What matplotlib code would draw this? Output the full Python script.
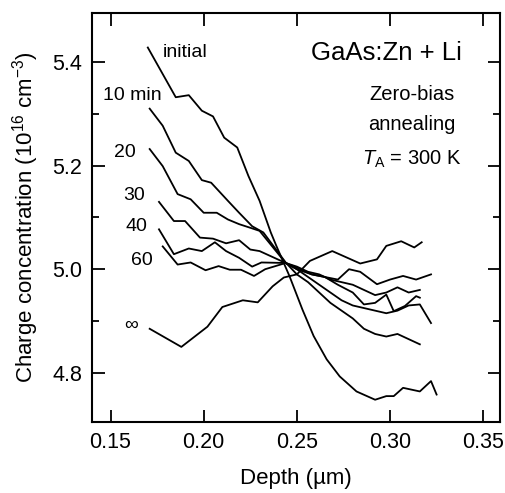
import matplotlib
matplotlib.use("Agg")
import matplotlib.pyplot as plt
from matplotlib.ticker import MultipleLocator

plt.rcParams['font.family'] = ['Liberation Sans', 'DejaVu Sans']
plt.rcParams['mathtext.fontset'] = 'custom'
plt.rcParams['mathtext.rm'] = 'Liberation Sans'
plt.rcParams['mathtext.it'] = 'Liberation Sans:italic'

# depth (um) / charge concentration (1e16 cm^-3)
x_init = [0.170, 0.185, 0.192, 0.199, 0.205, 0.211, 0.218, 0.224, 0.230, 0.236, 0.239, 0.246,
          0.253, 0.259, 0.266, 0.273, 0.282, 0.292, 0.298, 0.302, 0.307, 0.316, 0.322, 0.325]
y_init = [5.428, 5.332, 5.336, 5.306, 5.295, 5.254, 5.235, 5.180, 5.132, 5.071, 5.045, 4.987,
          4.922, 4.871, 4.826, 4.793, 4.764, 4.748, 4.755, 4.755, 4.771, 4.764, 4.784, 4.758]

x_10 = [0.171, 0.178, 0.185, 0.192, 0.199, 0.204, 0.213, 0.219, 0.226, 0.232, 0.244,
        0.250, 0.256, 0.262, 0.268, 0.274, 0.280, 0.286, 0.292, 0.298, 0.304, 0.310, 0.316]
y_10 = [5.310, 5.277, 5.225, 5.209, 5.172, 5.167, 5.132, 5.109, 5.083, 5.071, 5.013,
        4.990, 4.975, 4.955, 4.935, 4.920, 4.905, 4.885, 4.875, 4.870, 4.875, 4.865, 4.855]

x_20 = [0.171, 0.178, 0.186, 0.193, 0.200, 0.207, 0.213, 0.219, 0.225, 0.230, 0.244,
        0.250, 0.256, 0.262, 0.268, 0.274, 0.280, 0.286, 0.292, 0.298, 0.304, 0.310, 0.316, 0.322]
y_20 = [5.232, 5.199, 5.145, 5.135, 5.109, 5.109, 5.096, 5.087, 5.080, 5.074, 5.012,
        5.000, 4.985, 4.970, 4.955, 4.940, 4.930, 4.925, 4.920, 4.915, 4.920, 4.930, 4.932, 4.896]

x_30 = [0.176, 0.184, 0.190, 0.198, 0.205, 0.212, 0.219, 0.225, 0.230, 0.244,
        0.250, 0.258, 0.265, 0.272, 0.280, 0.286, 0.292, 0.298, 0.302, 0.308, 0.314, 0.316]
y_30 = [5.130, 5.093, 5.093, 5.061, 5.059, 5.050, 5.056, 5.038, 5.035, 5.012,
        5.000, 4.990, 4.985, 4.970, 4.955, 4.932, 4.935, 4.951, 4.919, 4.929, 4.948, 4.945]

x_40 = [0.176, 0.184, 0.192, 0.199, 0.206, 0.212, 0.219, 0.226, 0.231, 0.244,
        0.250, 0.256, 0.262, 0.268, 0.274, 0.280, 0.286, 0.292, 0.298, 0.304, 0.310, 0.316]
y_40 = [5.077, 5.029, 5.040, 5.035, 5.052, 5.035, 5.022, 5.005, 5.013, 5.012,
        5.005, 4.995, 4.990, 4.980, 4.975, 4.970, 4.960, 4.950, 4.955, 4.965, 4.955, 4.960]

x_60 = [0.178, 0.186, 0.193, 0.201, 0.208, 0.214, 0.220, 0.227, 0.233, 0.244,
        0.252, 0.258, 0.265, 0.272, 0.278, 0.284, 0.293, 0.300, 0.307, 0.314, 0.322]
y_60 = [5.044, 5.009, 5.013, 4.998, 5.006, 4.999, 4.999, 4.987, 5.000, 5.012,
        5.000, 4.990, 4.985, 4.980, 5.000, 4.995, 4.971, 4.980, 4.987, 4.980, 4.990]

x_inf = [0.171, 0.188, 0.202, 0.210, 0.221, 0.229, 0.237, 0.243, 0.250, 0.257, 0.269,
         0.284, 0.293, 0.298, 0.306, 0.313, 0.317]
y_inf = [4.885, 4.850, 4.889, 4.927, 4.940, 4.936, 4.967, 4.984, 4.990, 5.016, 5.035,
         5.011, 5.019, 5.045, 5.054, 5.042, 5.052]

curves = [(x_init, y_init), (x_10, y_10), (x_20, y_20), (x_30, y_30),
          (x_40, y_40), (x_60, y_60), (x_inf, y_inf)]

# label text and anchor (data coords)
labels = ["initial", "10 min", "20", "30", "40", "60", r"$\infty$"]
label_x = [0.178, 0.146, 0.152, 0.157, 0.158, 0.161, 0.157]
label_y = [5.419, 5.336, 5.225, 5.142, 5.083, 5.016, 4.893]

fig = plt.figure(figsize=(5.05, 4.93), dpi=100)
ax = fig.add_axes([0.182, 0.144, 0.808, 0.830])

for xs, ys in curves:
    ax.plot(xs, ys, color='black', lw=1.3)

for t, lx, ly in zip(labels, label_x, label_y):
    ax.text(lx, ly, t, fontsize=14, va='center', ha='left')

ax.text(0.907, 0.902, "GaAs:Zn + Li", transform=ax.transAxes, fontsize=18.5,
        ha='right', va='center')
ax.text(0.785, 0.800, "Zero-bias", transform=ax.transAxes, fontsize=14.5,
        ha='center', va='center')
ax.text(0.785, 0.726, "annealing", transform=ax.transAxes, fontsize=14.5,
        ha='center', va='center')
ax.text(0.785, 0.641, "$T_{\\rm A}$ = 300 K", transform=ax.transAxes, fontsize=14.5,
        ha='center', va='center')

ax.set_xlim(0.14, 0.359)
ax.set_ylim(4.705, 5.495)
ax.set_xticks([0.15, 0.20, 0.25, 0.30, 0.35])
ax.set_xticklabels(["0.15", "0.20", "0.25", "0.30", "0.35"])
ax.set_yticks([4.8, 5.0, 5.2, 5.4])
ax.set_yticklabels(["4.8", "5.0", "5.2", "5.4"])
ax.yaxis.set_minor_locator(MultipleLocator(0.1))
ax.tick_params(which='both', direction='in', top=True, right=True, labelsize=15.5, width=1.3)
ax.tick_params(which='major', length=9, pad=7)
ax.tick_params(which='minor', length=5)
for s in ax.spines.values():
    s.set_linewidth(1.5)

ax.set_xlabel("Depth (\u00b5m)", fontsize=16, labelpad=11)
ax.set_ylabel("Charge concentration (10$^{16}$ cm$^{-3}$)", fontsize=16, labelpad=8)

fig.savefig("out.png", dpi=100)
